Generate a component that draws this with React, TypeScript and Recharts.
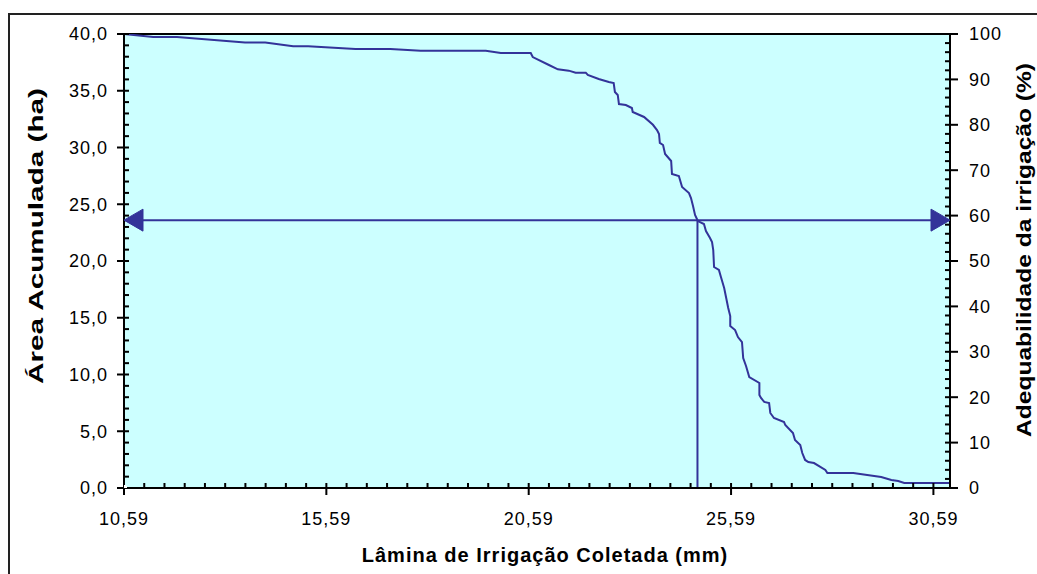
import React from 'react';
import { ComposedChart, Line, XAxis, YAxis, CartesianGrid, ReferenceLine } from 'recharts';

// lâmina coletada (mm) x área acumulada (ha)
const laminaMm = [
  10.59, 11.31, 11.9, 13.58, 14.08, 14.77, 15.14, 16.31, 17.17, 17.92, 19.53, 19.9, 20.64, 20.69, 21.09,
  21.31, 21.58, 21.75, 22.0, 22.05, 22.32, 22.57, 22.69, 22.72, 22.79, 22.82, 22.99, 23.14, 23.16, 23.44,
  23.66, 23.76, 23.81, 23.83, 23.91, 23.96, 24.11, 24.13, 24.3, 24.38, 24.55, 24.6, 24.65, 24.7, 24.77,
  24.92, 24.97, 25.07, 25.12, 25.15, 25.17, 25.29, 25.34, 25.42, 25.47, 25.52, 25.57, 25.57, 25.69, 25.76,
  25.86, 25.89, 25.96, 26.04, 26.29, 26.29, 26.33, 26.41, 26.53, 26.56, 26.65, 26.9, 26.93, 27.12, 27.17,
  27.3, 27.35, 27.42, 27.5, 27.64, 27.92, 27.97, 28.61, 29.3, 29.55, 29.72, 29.87, 31.0, 31.0,
];
const areaHa = [
  40.0, 39.74, 39.74, 39.25, 39.25, 38.92, 38.92, 38.68, 38.68, 38.53, 38.53, 38.33, 38.33, 37.97, 37.27,
  36.89, 36.77, 36.59, 36.59, 36.39, 36.04, 35.77, 35.68, 34.89, 34.63, 33.83, 33.74, 33.48, 33.13, 32.69,
  32.0, 31.54, 31.19, 30.4, 30.22, 29.43, 28.81, 27.67, 27.49, 26.52, 25.99, 25.55, 24.85, 24.05, 23.52,
  23.26, 22.64, 22.03, 21.67, 20.97, 19.47, 19.21, 18.59, 17.62, 16.74, 15.86, 15.15, 14.27, 13.92, 13.3,
  12.86, 11.45, 10.75, 9.78, 9.25, 8.19, 7.93, 7.58, 7.49, 6.61, 6.17, 5.81, 5.55, 4.85, 4.23,
  3.79, 3.08, 2.47, 2.29, 2.2, 1.59, 1.32, 1.32, 0.97, 0.7, 0.62, 0.44, 0.44, 0,
];

const xMin = 10.59;
const xMax = 31.0;
const areaTotal = 40;
const adequacyLevel = 59; // %
const laminaAtLevel = 24.76; // mm

const xTicks = [10.59, 15.59, 20.59, 25.59, 30.59];
const leftTicks = [0, 5, 10, 15, 20, 25, 30, 35, 40];
const rightTicks = [0, 10, 20, 30, 40, 50, 60, 70, 80, 90, 100];

const xMinor = Array.from({ length: 41 }, (_, i) => +(xMin + i * 0.5).toFixed(2));
const leftMinor = Array.from({ length: 41 }, (_, i) => i);
const rightMinor = Array.from({ length: 51 }, (_, i) => i * 2);

const curve = laminaMm.map((x, i) => ({ x, y: areaHa[i] }));
const levelHa = (adequacyLevel / 100) * areaTotal;
const hLine = [
  { x: xMin, y: adequacyLevel },
  { x: xMax, y: adequacyLevel },
];
const vLine = [
  { x: laminaAtLevel, y: 0 },
  { x: laminaAtLevel, y: levelHa },
];
const anchor = [{ x: xMin, y: 0 }];

const BLUE = '#333399';
const FONT = '"Liberation Sans", Arial, sans-serif';
const tickStyle = { fill: '#000', fontSize: 18, letterSpacing: 1 };

const fmtComma1 = (v: number) => v.toFixed(1).replace('.', ',');
const fmtComma2 = (v: number) => v.toFixed(2).replace('.', ',');
const noLabel = () => '';

const ArrowDot = (props: any) => {
  const { cx, cy, index } = props;
  if (cx == null || cy == null) return null;
  const d = index === 0 ? 1 : -1;
  const pts = `${cx},${cy} ${cx + d * 19},${cy - 11} ${cx + d * 19},${cy + 11}`;
  return <polygon key={`arrow-${index}`} points={pts} fill={BLUE} stroke={BLUE} />;
};

const titleStyle = { fontFamily: FONT, fontWeight: 700, fontSize: 20, fill: '#000' };

const XTitle = (props: any) => {
  const vb = props.viewBox;
  const x = vb.x + vb.width / 2 + 8;
  const y = vb.y + vb.height + 44;
  return (
    <text x={x} y={y} textAnchor="middle" style={{ ...titleStyle, letterSpacing: 1 }}>
      Lâmina de Irrigação Coletada (mm)
    </text>
  );
};

const LeftTitle = () => {
  const x = 43;
  const y = 236;
  return (
    <text
      x={x}
      y={y}
      textAnchor="middle"
      transform={`rotate(-90 ${x} ${y})`}
      textLength={296}
      lengthAdjust="spacingAndGlyphs"
      style={titleStyle}
    >
      Área Acumulada (ha)
    </text>
  );
};

const RightTitle = () => {
  const x = 1031;
  const y = 250;
  return (
    <text
      x={x}
      y={y}
      textAnchor="middle"
      transform={`rotate(-90 ${x} ${y})`}
      textLength={374}
      lengthAdjust="spacingAndGlyphs"
      style={titleStyle}
    >
      Adequabilidade da irrigação (%)
    </text>
  );
};

const hidden = {
  stroke: 'none',
  dot: false,
  activeDot: false,
  isAnimationActive: false,
  legendType: 'none' as const,
};

const minorTickProps = {
  interval: 0 as const,
  tickFormatter: noLabel,
  tick: { fontSize: 1, fill: 'none' },
  tickSize: 5,
  tickMargin: 0,
  mirror: true,
  axisLine: false,
  tickLine: { stroke: '#000', strokeWidth: 2 },
  allowDataOverflow: true,
};

export default function App() {
  return (
    <div style={{ position: 'absolute', left: 0, top: 0, width: 1037, height: 574, overflow: 'hidden', background: '#fff' }}>
      <div
        style={{
          position: 'absolute',
          left: 8,
          top: 13,
          width: 1200,
          height: 800,
          border: '2px solid #222',
        }}
      />
      <div style={{ position: 'absolute', left: 0, top: 0 }}>
        <ComposedChart
          width={1037}
          height={574}
          margin={{ top: 34, right: 27, bottom: 56, left: 64 }}
          style={{ fontFamily: FONT }}
        >
          <CartesianGrid xAxisId="main" yAxisId="left" fill="#CCFFFF" stroke="none" horizontal={false} vertical={false} />
          <XAxis
            xAxisId="main"
            dataKey="x"
            type="number"
            domain={[xMin, xMax]}
            ticks={xTicks}
            interval={0}
            tickFormatter={fmtComma2}
            tick={tickStyle}
            tickSize={7}
            tickMargin={17}
            height={30}
            axisLine={{ stroke: '#000', strokeWidth: 2 }}
            tickLine={{ stroke: '#000', strokeWidth: 2 }}
            allowDataOverflow
            label={{ content: XTitle }}
          />
          <XAxis
            xAxisId="minor"
            dataKey="x"
            type="number"
            domain={[xMin, xMax]}
            ticks={xMinor}
            height={1}
            {...minorTickProps}
          />
          <YAxis
            yAxisId="left"
            type="number"
            domain={[0, areaTotal]}
            ticks={leftTicks}
            interval={0}
            tickFormatter={fmtComma1}
            tick={tickStyle}
            tickSize={7}
            tickMargin={9}
            width={60}
            axisLine={{ stroke: '#000', strokeWidth: 2 }}
            tickLine={{ stroke: '#000', strokeWidth: 2 }}
            allowDataOverflow
            label={{ content: LeftTitle }}
          />
          <YAxis
            yAxisId="leftMinor"
            type="number"
            domain={[0, areaTotal]}
            ticks={leftMinor}
            width={1}
            {...minorTickProps}
          />
          <YAxis
            yAxisId="right"
            orientation="right"
            type="number"
            domain={[0, 100]}
            ticks={rightTicks}
            interval={0}
            tick={tickStyle}
            tickSize={8}
            tickMargin={11}
            width={60}
            axisLine={{ stroke: '#000', strokeWidth: 2 }}
            tickLine={{ stroke: '#000', strokeWidth: 2 }}
            allowDataOverflow
            label={{ content: RightTitle }}
          />
          <YAxis
            yAxisId="rightMinor"
            orientation="right"
            type="number"
            domain={[0, 100]}
            ticks={rightMinor}
            width={1}
            {...minorTickProps}
          />
          <ReferenceLine xAxisId="main" yAxisId="left" y={areaTotal} stroke="#000" strokeWidth={2} />
          <Line xAxisId="minor" yAxisId="leftMinor" data={anchor} dataKey="y" {...hidden} />
          <Line xAxisId="minor" yAxisId="rightMinor" data={anchor} dataKey="y" {...hidden} />
          <Line
            xAxisId="main"
            yAxisId="right"
            data={hLine}
            dataKey="y"
            type="linear"
            stroke={BLUE}
            strokeWidth={2}
            dot={ArrowDot}
            activeDot={false}
            isAnimationActive={false}
          />
          <Line
            xAxisId="main"
            yAxisId="left"
            data={vLine}
            dataKey="y"
            type="linear"
            stroke={BLUE}
            strokeWidth={2}
            dot={false}
            activeDot={false}
            isAnimationActive={false}
          />
          <Line
            xAxisId="main"
            yAxisId="left"
            data={curve}
            dataKey="y"
            type="linear"
            stroke={BLUE}
            strokeWidth={2}
            dot={false}
            activeDot={false}
            isAnimationActive={false}
          />
        </ComposedChart>
      </div>
    </div>
  );
}
